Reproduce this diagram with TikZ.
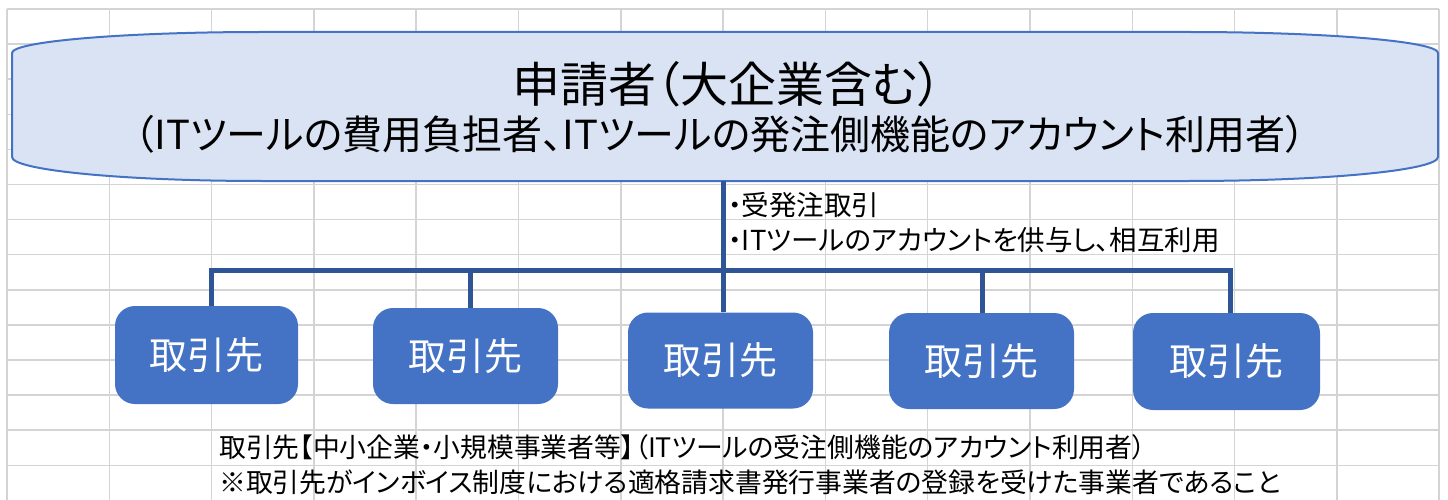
\documentclass[tikz,border=0pt]{standalone}
\usepackage{fontspec}
\newfontfamily\jp[RawFeature=+palt]{Noto Sans CJK JP}
\definecolor{gridc}{HTML}{D4D4D4}
\definecolor{appfill}{HTML}{DAE3F3}
\definecolor{appline}{HTML}{4472C4}
\definecolor{boxfill}{HTML}{4472C4}
\definecolor{connc}{HTML}{2F5597}
\tikzset{
  gridline/.style={draw=gridc, line width=1.5pt},
  partner/.style={fill=boxfill, draw=none, rounded corners=20pt, minimum width=185pt, minimum height=96pt, text=white, font=\jp\fontsize{38}{40}\selectfont, inner sep=0pt},
  conn/.style={draw=connc, line width=5pt, line join=miter},
  label/.style={anchor=west, inner sep=0pt, font=\jp\fontsize{27.5}{30}\selectfont, text=black},
  note/.style={anchor=west, inner sep=0pt, font=\jp\fontsize{26.8}{30}\selectfont, text=black},
}
\begin{document}
\begin{tikzpicture}[x=1pt, y=-1pt]
\useasboundingbox (0,0) rectangle (1448,500);
% spreadsheet grid
\foreach \k in {0,...,14} \draw[gridline] ({7+102.3*\k},9) -- ({7+102.3*\k},500);
\foreach \k in {0,...,13} \draw[gridline] (7,{9+35.1*\k}) -- (1439,{9+35.1*\k});
% applicant shape
\path[fill=appfill, draw=appline, line width=2pt]
  (12,53) arc[start angle=180, end angle=270, x radius=250, y radius=21]
  -- (1188,32) arc[start angle=270, end angle=360, x radius=250, y radius=21]
  -- (1438,157) arc[start angle=0, end angle=90, x radius=250, y radius=24]
  -- (262,181) arc[start angle=90, end angle=180, x radius=250, y radius=24]
  -- cycle;
\node[minimum width=1426pt, minimum height=149pt, inner sep=0pt] (app) at (725,106.5) {};
\node[font=\jp\fontsize{48}{52}\selectfont, inner sep=0pt] (t1) at (727,84) {申請者（大企業含む）};
\node[font=\jp\fontsize{40}{44}\selectfont, inner sep=0pt] (t2) at (720,134) {（ITツールの費用負担者、ITツールの発注側機能のアカウント利用者）};
% partners
\node[partner, minimum width=183pt, minimum height=98pt] (b1) at (206.5,355) {取引先};
\node[partner] (b2) at (465.5,356) {取引先};
\node[partner] (b3) at (720.5,360.5) {取引先};
\node[partner] (b4) at (981.5,361) {取引先};
\node[partner, minimum width=187pt, minimum height=97pt] (b5) at (1226.5,361.5) {取引先};
% connectors
\coordinate (hub) at (723,270);
\coordinate (d1) at (211,270);
\coordinate (d2) at (470,270);
\coordinate (d4) at (982,270);
\coordinate (d5) at (1230,270);
\draw[conn] (app.south -| hub) -- (hub);
\draw[conn] (b1.north -| d1) -- (d1) -- (d5) -- (b5.north -| d5);
\draw[conn] (d2) -- (b2.north -| d2);
\draw[conn] (hub) -- (b3.north -| hub);
\draw[conn] (d4) -- (b4.north -| d4);
% labels
\node[label] (l1) at (728,205) {・受発注取引};
\node[label] (l2) at (728,240) {・ITツールのアカウントを供与し、相互利用};
\node[note] (n1) at (219,447) {取引先【中小企業・小規模事業者等】（ITツールの受注側機能のアカウント利用者）};
\node[note] (n2) at (219,482) {※取引先がインボイス制度における適格請求書発行事業者の登録を受けた事業者であること};
\end{tikzpicture}
\end{document}
